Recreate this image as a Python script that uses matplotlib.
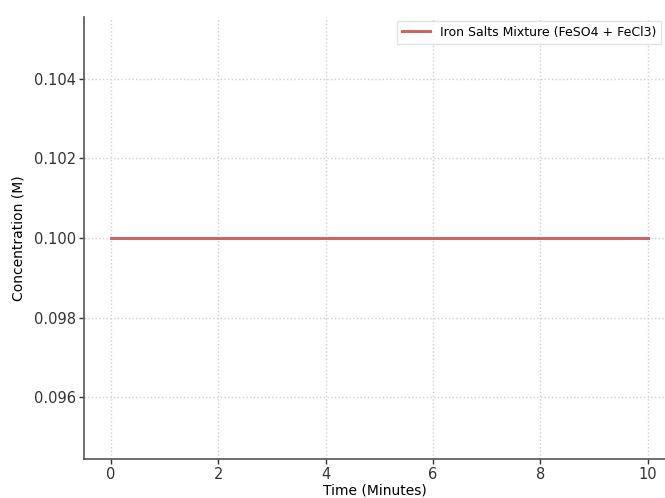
import matplotlib.pyplot as plt

time_min = [0, 1, 2, 3, 4, 5, 6, 7, 8, 9, 10]
concentration = [0.1, 0.1, 0.1, 0.1, 0.1, 0.1, 0.1, 0.1, 0.1, 0.1, 0.1]
label = 'Iron Salts Mixture (FeSO4 + FeCl3)'

fig = plt.figure(figsize=(6.65, 4.98), dpi=100)
ax = fig.add_axes([84 / 665, 39 / 498, 581 / 665, 442 / 498])

ax.plot(time_min, concentration, color='#cc6666', linewidth=2.2, label=label)

ax.set_xlim(-0.5, 10.32)
ax.set_ylim(0.09445, 0.10555)
ax.set_xticks([0, 2, 4, 6, 8, 10])
ax.set_yticks([0.096, 0.098, 0.100, 0.102, 0.104])
ax.set_yticklabels(['0.096', '0.098', '0.100', '0.102', '0.104'])

ax.set_xlabel('Time (Minutes)', fontsize=10, labelpad=1)
ax.set_ylabel('Concentration (M)', fontsize=10, labelpad=6)
ax.tick_params(labelsize=10.5, colors='#333333', length=3.5, width=1, pad=2)

# dotted grid, open top/right
ax.grid(True, linestyle=':', color='#d0d0d0', linewidth=1)
for s in ['top', 'right']:
    ax.spines[s].set_visible(False)
for s in ['left', 'bottom']:
    ax.spines[s].set_color('#555555')
    ax.spines[s].set_linewidth(1.2)

ax.legend(loc='upper right', fontsize=9, frameon=True, edgecolor='#dddddd',
          fancybox=False, borderaxespad=0.3, handlelength=2.2)

fig.savefig('out.png', dpi=100)
